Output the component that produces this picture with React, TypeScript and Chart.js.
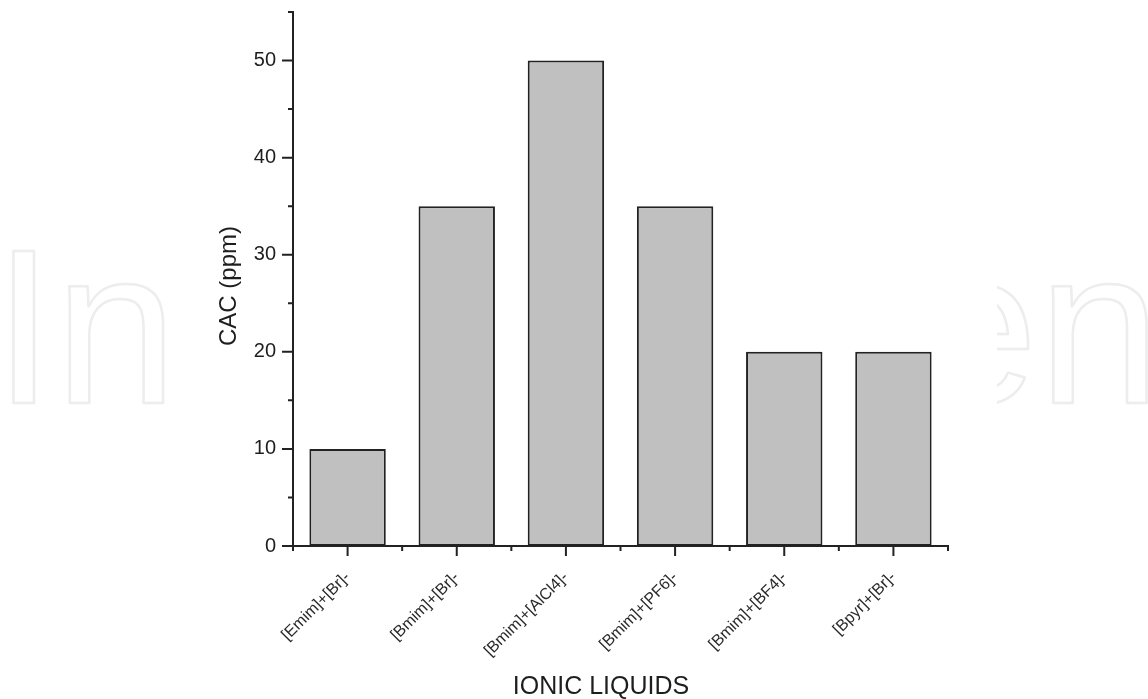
import { useEffect, useRef } from "react";
import { Chart, registerables } from "chart.js";

Chart.register(...registerables);

const categories = [
  "[Emim]+[Br]-",
  "[Bmim]+[Br]-",
  "[Bmim]+[AlCl4]-",
  "[Bmim]+[PF6]-",
  "[Bmim]+[BF4]-",
  "[Bpyr]+[Br]-",
];
const cacValues = [10, 35, 50, 35, 20, 20];
const yMajorTicks = [0, 10, 20, 30, 40, 50];
const yMinorTicks = [5, 15, 25, 35, 45, 55];
const yMin = 0;
const yMax = 55;
const xTitle = "IONIC LIQUIDS";
const yTitle = "CAC (ppm)";
const watermarkLeft = "In";
const watermarkRight = "en";

const FONT = '"Liberation Sans", Arial, Helvetica, sans-serif';

const decorPlugin = {
  id: "decor",
  beforeDraw(chart: any) {
    const ctx = chart.ctx as CanvasRenderingContext2D;
    ctx.save();
    ctx.fillStyle = "#ffffff";
    ctx.fillRect(0, 0, chart.width, chart.height);
    ctx.font = `221px ${FONT}`;
    ctx.strokeStyle = "#ededed";
    ctx.lineWidth = 2.5;
    ctx.lineJoin = "round";
    ctx.textAlign = "left";
    ctx.textBaseline = "alphabetic";
    const mL = ctx.measureText(watermarkLeft);
    ctx.strokeText(watermarkLeft, 13 + mL.actualBoundingBoxLeft, 403);
    const mR = ctx.measureText(watermarkRight);
    ctx.beginPath();
    ctx.rect(997, 0, chart.width - 997, chart.height);
    ctx.clip();
    ctx.strokeText(watermarkRight, 1147 - mR.actualBoundingBoxRight, 403);
    ctx.restore();
  },
  afterDraw(chart: any) {
    const ctx = chart.ctx as CanvasRenderingContext2D;
    const x = chart.scales.x;
    const y = chart.scales.y;
    const left = chart.chartArea.left;
    const bottom = chart.chartArea.bottom;
    ctx.save();
    ctx.strokeStyle = "#222222";
    ctx.lineWidth = 2;
    ctx.beginPath();
    yMajorTicks.forEach((v) => {
      const py = y.getPixelForValue(v);
      ctx.moveTo(left - 11, py);
      ctx.lineTo(left, py);
    });
    yMinorTicks.forEach((v) => {
      const py = y.getPixelForValue(v);
      ctx.moveTo(left - 5, py);
      ctx.lineTo(left, py);
    });
    categories.forEach((_, i) => {
      const px = x.getPixelForValue(i);
      ctx.moveTo(px, bottom);
      ctx.lineTo(px, bottom + 10);
    });
    for (let i = 0; i <= categories.length; i++) {
      const px = x.getPixelForValue(i - 0.5);
      ctx.moveTo(px, bottom);
      ctx.lineTo(px, bottom + 5);
    }
    ctx.stroke();

    ctx.fillStyle = "#1e1e1e";
    ctx.font = `25px ${FONT}`;
    ctx.textAlign = "center";
    ctx.textBaseline = "alphabetic";
    ctx.fillText(xTitle, 601, 694);

    ctx.translate(236, 286);
    ctx.rotate(-Math.PI / 2);
    ctx.font = `24px ${FONT}`;
    ctx.fillText(yTitle, 0, 0);
    ctx.restore();
  },
};

export default function App() {
  const canvasRef = useRef<HTMLCanvasElement | null>(null);

  useEffect(() => {
    const canvas = canvasRef.current;
    if (!canvas) return;
    const chart = new Chart(canvas, {
      type: "bar",
      data: {
        labels: categories,
        datasets: [
          {
            data: cacValues,
            backgroundColor: "#c0c0c0",
            borderColor: "#222222",
            borderWidth: 2,
            borderSkipped: false,
            barPercentage: 0.7,
            categoryPercentage: 1,
          },
        ],
      },
      options: {
        animation: false,
        responsive: false,
        maintainAspectRatio: false,
        layout: { padding: { left: 0, top: 12, right: 200, bottom: 0 } },
        plugins: {
          legend: { display: false },
          tooltip: { enabled: false },
        },
        scales: {
          x: {
            type: "category",
            offset: true,
            grid: { display: false, drawTicks: false },
            border: { display: true, color: "#222222", width: 2 },
            ticks: {
              autoSkip: false,
              minRotation: 45,
              maxRotation: 45,
              padding: 22,
              color: "#2a2a2a",
              font: { family: FONT, size: 16 },
            },
            afterFit(s: any) {
              s.height = 153;
              s.paddingLeft = 0;
              s.paddingRight = 0;
              s.paddingTop = 0;
              s.paddingBottom = 0;
            },
          },
          y: {
            min: yMin,
            max: yMax,
            grid: { display: false, drawTicks: false },
            border: { display: true, color: "#222222", width: 2 },
            ticks: {
              padding: 17,
              color: "#1e1e1e",
              font: { family: FONT, size: 20 },
            },
            afterBuildTicks(s: any) {
              s.ticks = yMajorTicks.map((v) => ({ value: v }));
            },
            afterFit(s: any) {
              s.width = 293;
              s.paddingLeft = 0;
              s.paddingRight = 0;
              s.paddingTop = 0;
              s.paddingBottom = 0;
            },
          },
        },
      },
      plugins: [decorPlugin],
    });
    return () => chart.destroy();
  }, []);

  return (
    <div style={{ position: "absolute", left: 0, top: 0, width: 1148, height: 699 }}>
      <canvas
        ref={canvasRef}
        width={1148}
        height={699}
        style={{ display: "block", width: 1148, height: 699 }}
      />
    </div>
  );
}
